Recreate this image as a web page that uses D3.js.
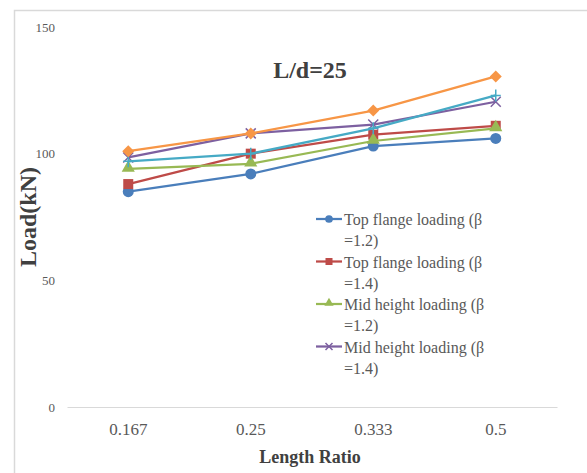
<!DOCTYPE html>
<html>
<head>
<meta charset="utf-8">
<script src="https://d3js.org/d3.v7.min.js"></script>
<style>
    body { margin: 0; background: #fff; }
    svg text { font-family: "Liberation Serif", Tinos, "Times New Roman", "DejaVu Serif", serif !important; }
</style>
</head>
<body>
<svg id="chart_svg"></svg>
<script>
// data
var categories = ["0.167", "0.25", "0.333", "0.5"];
var seriesNames = [
    "Top flange loading (β =1.2)",
    "Top flange loading (β =1.4)",
    "Mid height loading (β =1.2)",
    "Mid height loading (β =1.4)",
    "Series 5",
    "Series 6"
];
var topFlange12 = [85, 92, 103, 106];
var topFlange14 = [88, 100, 107.5, 111];
var midHeight12 = [94, 96, 105, 110];
var midHeight14 = [98.5, 108, 111.5, 120.5];
var series5 = [97, 100, 110, 123];
var series6 = [101, 108, 117, 130.5];
var yTicks = [0, 50, 100, 150];
// legend only shows the first four (it is cut off in the original)
var legendLines = [
    ["Top flange loading (β", "=1.2)"],
    ["Top flange loading (β", "=1.4)"],
    ["Mid height loading (β", "=1.2)"],
    ["Mid height loading (β", "=1.4)"]
];

var allSeries = [topFlange12, topFlange14, midHeight12, midHeight14, series5, series6];
var colors = ["#4A7EBB", "#BE4B48", "#98B954", "#7D60A0", "#46AAC5", "#F79646"];
var shapes = ["circle", "square", "triangle", "x", "plus", "diamond"];

var width = 587, height = 473;
var margin = {top: 27, right: 30, bottom: 66, left: 67};

var svg = d3.select("#chart_svg")
    .attr("width", width)
    .attr("height", height);

// chart frame (cropped on the right and bottom)
svg.append("rect")
    .attr("x", 14.5)
    .attr("y", 10.5)
    .attr("width", 700)
    .attr("height", 600)
    .attr("fill", "#fff")
    .attr("stroke", "#d9d9d9")
    .attr("stroke-width", 1.5);

var x = d3.scaleBand()
    .domain(categories)
    .range([margin.left, width - margin.right]);

var y = d3.scaleLinear()
    .domain([0, 150])
    .range([height - margin.bottom, margin.top]);

// x axis
var xAxis = svg.append("g")
    .attr("transform", "translate(0," + y(0) + ")")
    .call(d3.axisBottom(x).tickSize(0).tickPadding(16));
xAxis.attr("font-family", null);
xAxis.select(".domain").attr("stroke", "#d9d9d9").attr("stroke-width", 1.2);
xAxis.selectAll("text")
    .attr("fill", "#595959")
    .style("font-size", "17px");

// y axis, no line
var yAxis = svg.append("g")
    .attr("transform", "translate(" + (margin.left - 12) + ",0)")
    .call(d3.axisLeft(y).tickValues(yTicks).tickSize(0).tickPadding(0));
yAxis.attr("font-family", null);
yAxis.select(".domain").remove();
yAxis.selectAll("text")
    .attr("fill", "#595959")
    .style("font-size", "13px");

var line = d3.line()
    .x(function(d, i) { return x(categories[i]) + x.bandwidth() / 2; })
    .y(function(d) { return y(d); });

function drawMarker(g, shape, color, cx, cy, k) {
    if (shape == "circle") {
        g.append("circle").attr("cx", cx).attr("cy", cy).attr("r", 5.5 * k).attr("fill", color);
    } else if (shape == "square") {
        g.append("rect").attr("x", cx - 5 * k).attr("y", cy - 5 * k).attr("width", 10 * k).attr("height", 10 * k).attr("fill", color);
    } else if (shape == "triangle") {
        g.append("path").attr("d", d3.symbol().type(d3.symbolTriangle).size(75 * k * k)()).attr("transform", "translate(" + cx + "," + (cy - 1) + ")").attr("fill", color);
    } else if (shape == "diamond") {
        g.append("path").attr("d", "M0,-6L6,0L0,6L-6,0Z").attr("transform", "translate(" + cx + "," + cy + ") scale(" + k + ")").attr("fill", color);
    } else if (shape == "x") {
        g.append("path").attr("d", "M-5,-5L5,5M-5,5L5,-5").attr("transform", "translate(" + cx + "," + cy + ") scale(" + k + ")").attr("stroke", color).attr("stroke-width", 1.5 / k).attr("fill", "none");
    } else if (shape == "plus") {
        g.append("path").attr("d", "M-5,0L5,0M0,-6L0,6").attr("transform", "translate(" + cx + "," + cy + ") scale(" + k + ")").attr("stroke", color).attr("stroke-width", 1.5 / k).attr("fill", "none");
    }
}

for (var s = 0; s < allSeries.length; s++) {
    var g = svg.append("g").attr("class", "series" + s);
    g.append("path")
        .datum(allSeries[s])
        .attr("fill", "none")
        .attr("stroke", colors[s])
        .attr("stroke-width", 2.25)
        .attr("stroke-linejoin", "round")
        .attr("d", line);
    for (var i = 0; i < allSeries[s].length; i++) {
        drawMarker(g, shapes[s], colors[s], x(categories[i]) + x.bandwidth() / 2, y(allSeries[s][i]), 1);
    }
}

// title
svg.append("text")
    .attr("x", 310)
    .attr("y", 78)
    .attr("text-anchor", "middle")
    .attr("fill", "#404040")
    .style("font-size", "24px")
    .style("font-weight", "bold")
    .text("L/d=25");

// axis titles
svg.append("text")
    .attr("transform", "translate(36," + 217 + ") rotate(-90)")
    .attr("text-anchor", "middle")
    .attr("fill", "#404040")
    .style("font-size", "24px")
    .style("font-weight", "bold")
    .text("Load(kN)");

svg.append("text")
    .attr("x", 310)
    .attr("y", 463)
    .attr("text-anchor", "middle")
    .attr("fill", "#404040")
    .style("font-size", "18px")
    .style("font-weight", "bold")
    .text("Length Ratio");

// legend
var legend = svg.append("g").attr("class", "legend");
for (var k = 0; k < legendLines.length; k++) {
    var ly = 219 + k * 42.5;
    legend.append("line")
        .attr("x1", 316).attr("x2", 342)
        .attr("y1", ly).attr("y2", ly)
        .attr("stroke", colors[k])
        .attr("stroke-width", 2.25);
    drawMarker(legend, shapes[k], colors[k], 329, ly, 0.7);
    legend.append("text")
        .attr("x", 344)
        .attr("y", ly + 6)
        .attr("fill", "#595959")
        .style("font-size", "16px")
        .text(legendLines[k][0]);
    legend.append("text")
        .attr("x", 344)
        .attr("y", ly + 27)
        .attr("fill", "#595959")
        .style("font-size", "16px")
        .text(legendLines[k][1]);
}
</script>
</body>
</html>
